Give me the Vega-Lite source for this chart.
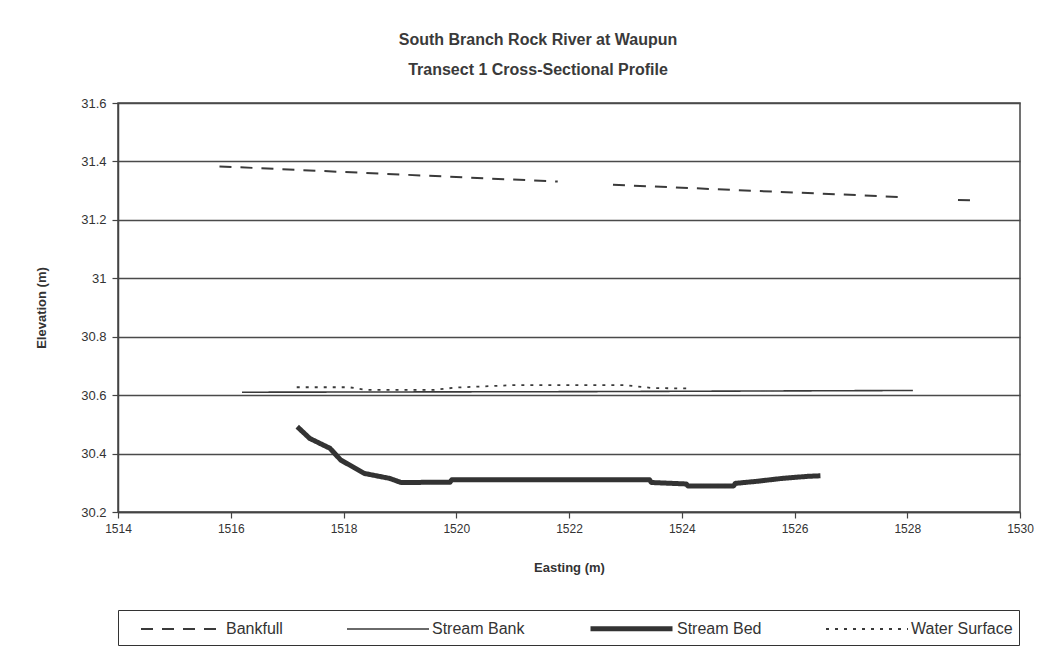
{
  "$schema": "https://vega.github.io/schema/vega-lite/v6.json",
  "width": 902,
  "height": 409,
  "autosize": {"type": "none"},
  "padding": {"left": 118, "top": 103, "right": 38, "bottom": 137},
  "background": "white",
  "title": {
    "text": ["South Branch Rock River at Waupun", "Transect 1 Cross-Sectional Profile"],
    "fontSize": 16,
    "fontWeight": "bold",
    "color": "#3a3a3a",
    "lineHeight": 30,
    "offset": 19,
    "anchor": "middle",
    "frame": "group",
    "dx": -31
  },
  "config": {
    "font": "Liberation Sans Narrow, Arial Narrow, Liberation Sans, sans-serif",
    "view": {"stroke": "#444", "strokeWidth": 1.5},
    "legend": {
      "orient": "none",
      "legendX": 0,
      "legendY": 507,
      "direction": "horizontal",
      "symbolType": "M0.6,0H8.8",
      "symbolSize": 400,
      "symbolFillColor": "transparent",
      "labelFontSize": 16,
      "labelColor": "#333",
      "labelOffset": 80,
      "columnPadding": 47,
      "padding": 6,
      "strokeColor": "#333",
      "cornerRadius": 0
    }
  },
  "data": {
    "values": [
      {"series": "Bankfull", "seg": "b1", "x": 1515.8, "y": 31.383},
      {"series": "Bankfull", "seg": "b1", "x": 1521.8, "y": 31.331},
      {"series": "Bankfull", "seg": "b2", "x": 1522.78, "y": 31.32},
      {"series": "Bankfull", "seg": "b2", "x": 1527.9, "y": 31.278},
      {"series": "Bankfull", "seg": "b3", "x": 1528.9, "y": 31.268},
      {"series": "Bankfull", "seg": "b3", "x": 1529.15, "y": 31.267},
      {"series": "Stream Bank", "seg": "s1", "x": 1516.2, "y": 30.61},
      {"series": "Stream Bank", "seg": "s1", "x": 1522.2, "y": 30.612},
      {"series": "Stream Bank", "seg": "s1", "x": 1528.1, "y": 30.616},
      {"series": "Stream Bed", "seg": "d1", "x": 1517.18, "y": 30.492},
      {"series": "Stream Bed", "seg": "d1", "x": 1517.4, "y": 30.452},
      {"series": "Stream Bed", "seg": "d1", "x": 1517.76, "y": 30.418},
      {"series": "Stream Bed", "seg": "d1", "x": 1517.95, "y": 30.378},
      {"series": "Stream Bed", "seg": "d1", "x": 1518.37, "y": 30.332},
      {"series": "Stream Bed", "seg": "d1", "x": 1518.82, "y": 30.315},
      {"series": "Stream Bed", "seg": "d1", "x": 1519.02, "y": 30.301},
      {"series": "Stream Bed", "seg": "d1", "x": 1519.89, "y": 30.302},
      {"series": "Stream Bed", "seg": "d1", "x": 1519.92, "y": 30.31},
      {"series": "Stream Bed", "seg": "d1", "x": 1523.43, "y": 30.31},
      {"series": "Stream Bed", "seg": "d1", "x": 1523.46, "y": 30.301},
      {"series": "Stream Bed", "seg": "d1", "x": 1524.08, "y": 30.296},
      {"series": "Stream Bed", "seg": "d1", "x": 1524.11, "y": 30.289},
      {"series": "Stream Bed", "seg": "d1", "x": 1524.92, "y": 30.289},
      {"series": "Stream Bed", "seg": "d1", "x": 1524.95, "y": 30.298},
      {"series": "Stream Bed", "seg": "d1", "x": 1525.33, "y": 30.305},
      {"series": "Stream Bed", "seg": "d1", "x": 1525.78, "y": 30.315},
      {"series": "Stream Bed", "seg": "d1", "x": 1526.23, "y": 30.322},
      {"series": "Stream Bed", "seg": "d1", "x": 1526.46, "y": 30.324},
      {"series": "Water Surface", "seg": "w1", "x": 1517.17, "y": 30.627},
      {"series": "Water Surface", "seg": "w1", "x": 1518.1, "y": 30.627},
      {"series": "Water Surface", "seg": "w1", "x": 1518.4, "y": 30.618},
      {"series": "Water Surface", "seg": "w1", "x": 1519.6, "y": 30.618},
      {"series": "Water Surface", "seg": "w1", "x": 1520.0, "y": 30.626},
      {"series": "Water Surface", "seg": "w1", "x": 1521.0, "y": 30.634},
      {"series": "Water Surface", "seg": "w1", "x": 1523.0, "y": 30.634},
      {"series": "Water Surface", "seg": "w1", "x": 1523.5, "y": 30.624},
      {"series": "Water Surface", "seg": "w1", "x": 1524.15, "y": 30.623}
    ]
  },
  "mark": {"type": "line", "strokeCap": "butt", "strokeJoin": "round"},
  "encoding": {
    "x": {
      "field": "x",
      "type": "quantitative",
      "scale": {"domain": [1514, 1530], "nice": false, "zero": false},
      "axis": {
        "title": "Easting (m)",
        "values": [1514, 1516, 1518, 1520, 1522, 1524, 1526, 1528, 1530],
        "format": "d",
        "grid": false,
        "domainColor": "#444",
        "domainWidth": 1.5,
        "tickColor": "#444",
        "tickWidth": 1.2,
        "tickSize": 6,
        "labelFontSize": 12,
        "labelColor": "#333",
        "labelPadding": 5,
        "labelFlush": false,
        "titleFontSize": 13,
        "titleFontWeight": "bold",
        "titleColor": "#333",
        "titlePadding": 27
      }
    },
    "y": {
      "field": "y",
      "type": "quantitative",
      "scale": {"domain": [30.2, 31.6], "nice": false, "zero": false},
      "axis": {
        "title": "Elevation (m)",
        "values": [30.2, 30.4, 30.6, 30.8, 31, 31.2, 31.4, 31.6],
        "format": ".4~r",
        "grid": true,
        "gridColor": "#4a4a4a",
        "gridWidth": 1.5,
        "domainColor": "#444",
        "domainWidth": 1.5,
        "tickColor": "#444",
        "tickWidth": 1.2,
        "tickSize": 6,
        "labelFontSize": 13,
        "labelColor": "#333",
        "labelPadding": 6,
        "titleFontSize": 13,
        "titleFontWeight": "bold",
        "titleColor": "#333",
        "titlePadding": 32
      }
    },
    "detail": {"field": "seg"},
    "color": {
      "field": "series",
      "type": "nominal",
      "scale": {
        "domain": ["Bankfull", "Stream Bank", "Stream Bed", "Water Surface"],
        "range": ["#3a3a3a", "#3a3a3a", "#333333", "#3a3a3a"]
      },
      "legend": {"title": null}
    },
    "strokeDash": {
      "field": "series",
      "type": "nominal",
      "scale": {
        "domain": ["Bankfull", "Stream Bank", "Stream Bed", "Water Surface"],
        "range": [[12, 9], [1, 0], [1, 0], [3, 6]]
      },
      "legend": {"title": null}
    },
    "strokeWidth": {
      "field": "series",
      "type": "nominal",
      "scale": {
        "type": "ordinal",
        "domain": ["Bankfull", "Stream Bank", "Stream Bed", "Water Surface"],
        "range": [2, 1.6, 5, 1.8]
      },
      "legend": {"title": null}
    }
  }
}
